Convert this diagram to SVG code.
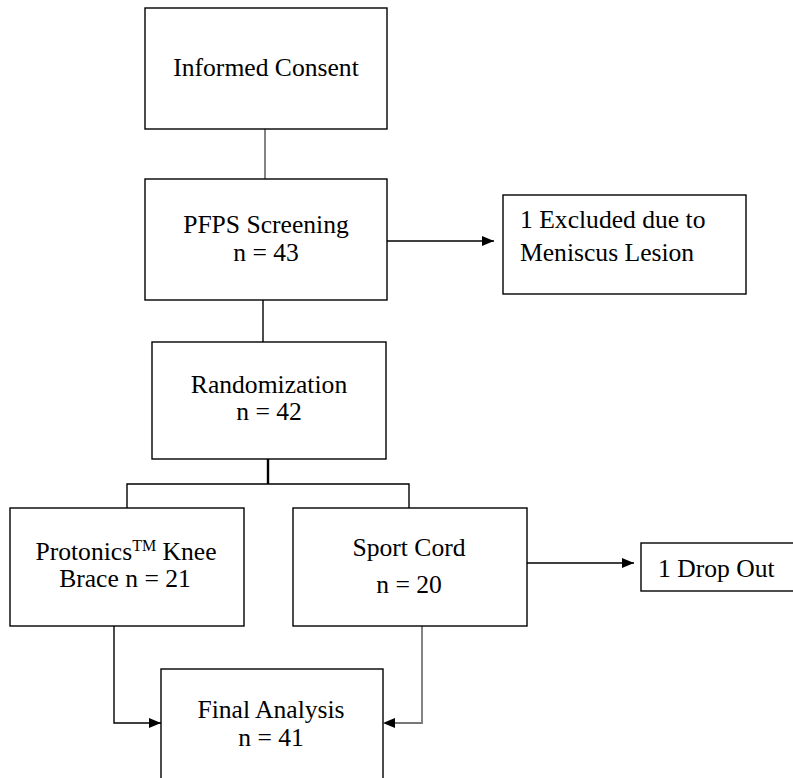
<svg xmlns="http://www.w3.org/2000/svg" width="793" height="778" viewBox="0 0 793 778">
<style>
.box{fill:#fff;stroke:#000;stroke-width:1.4}
.t{font-family:"Liberation Serif","Times New Roman",serif;font-size:25.6px;fill:#000}
.c{text-anchor:middle}
.ln{fill:none;stroke:#000;stroke-width:1.4}
.gr{fill:none;stroke:#777;stroke-width:1.8}
</style>
<defs>
<marker id="ah" markerWidth="12" markerHeight="10" refX="12" refY="5" orient="auto" markerUnits="userSpaceOnUse">
<path d="M0,0 L12,5 L0,10 Z" fill="#000"/>
</marker>
</defs>
<rect width="793" height="778" fill="#fff"/>
<g id="connectors">
<line class="gr" x1="265" y1="129" x2="265" y2="179"/>
<line class="ln" x1="387" y1="241" x2="494" y2="241" marker-end="url(#ah)"/>
<line class="ln" x1="263" y1="300" x2="263" y2="342"/>
<line class="ln" x1="268" y1="459" x2="268" y2="484" style="stroke-width:2.4"/>
<polyline class="ln" points="127,508 127,484 409,484 409,508"/>
<line class="ln" x1="527" y1="563" x2="634" y2="563" marker-end="url(#ah)"/>
<polyline class="ln" points="114,626 114,723 161,723" marker-end="url(#ah)"/>
<polyline class="gr" points="422,626 422,723 390,723"/>
<path d="M383,723 L395,718 L395,728 Z" fill="#000"/>
</g>
<g id="informed-consent">
<rect class="box" x="145" y="8" width="242" height="121"/>
<text class="t c" x="266" y="76">Informed Consent</text>
</g>
<g id="pfps-screening">
<rect class="box" x="145" y="179" width="242" height="121"/>
<text class="t c" x="266" y="233">PFPS Screening</text>
<text class="t c" x="266" y="261">n = 43</text>
</g>
<g id="excluded">
<rect class="box" x="503" y="195" width="243" height="99"/>
<text class="t" x="520" y="228">1 Excluded due to</text>
<text class="t" x="520" y="261">Meniscus Lesion</text>
</g>
<g id="randomization">
<rect class="box" x="152" y="342" width="234" height="117"/>
<text class="t c" x="269" y="393">Randomization</text>
<text class="t c" x="269" y="420">n = 42</text>
</g>
<g id="protonics">
<rect class="box" x="10" y="508" width="234" height="118"/>
<text class="t c" x="126" y="560">Protonics<tspan font-size="16" dy="-9">TM</tspan><tspan dy="9"> Knee</tspan></text>
<text class="t c" x="125" y="587">Brace n = 21</text>
</g>
<g id="sport-cord">
<rect class="box" x="293" y="508" width="234" height="118"/>
<text class="t c" x="409" y="556">Sport Cord</text>
<text class="t c" x="409" y="593">n = 20</text>
</g>
<g id="drop-out">
<rect class="box" x="641" y="543" width="160" height="48"/>
<text class="t" x="658" y="577">1 Drop Out</text>
</g>
<g id="final-analysis">
<rect class="box" x="161" y="669" width="222" height="125"/>
<text class="t c" x="271" y="718">Final Analysis</text>
<text class="t c" x="271" y="746">n = 41</text>
</g>
</svg>
